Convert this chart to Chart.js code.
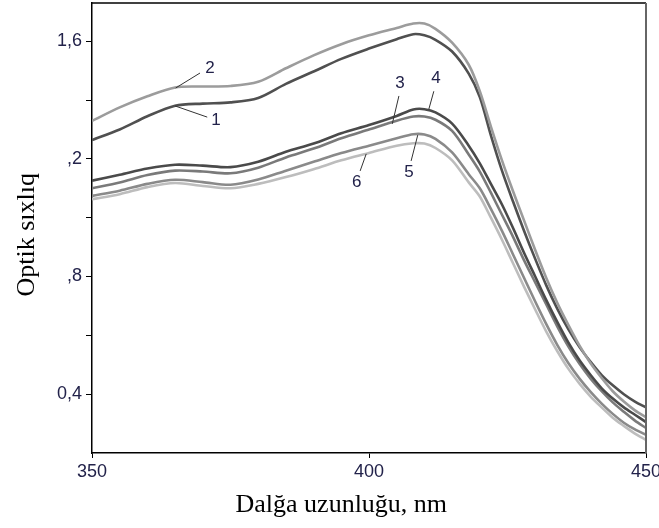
<!DOCTYPE html>
<html><head><meta charset="utf-8">
<script src="https://cdn.jsdelivr.net/npm/chart.js@4/dist/chart.umd.min.js"></script>
<style>html,body{margin:0;padding:0;background:#fff}</style>
</head><body>
<canvas id="c" width="659" height="528" style="display:block;width:659px;height:528px"></canvas>
<script>
// ---- data ----
const wavelengths = [350,355,360,365,370,375,380,385,390,395,400,405,408,410,412,415,418,420,422,424,426,428,430,432,434,436,438,440,442,444,446,448,450];
const curve1 = [1.264,1.300,1.345,1.381,1.388,1.392,1.407,1.455,1.497,1.540,1.575,1.607,1.624,1.620,1.605,1.565,1.490,1.410,1.280,1.160,1.055,0.955,0.860,0.770,0.690,0.620,0.560,0.510,0.465,0.430,0.400,0.375,0.355];
const curve2 = [1.329,1.375,1.413,1.443,1.446,1.448,1.462,1.508,1.552,1.590,1.620,1.645,1.660,1.660,1.642,1.595,1.520,1.430,1.310,1.195,1.090,0.990,0.890,0.795,0.710,0.635,0.565,0.505,0.455,0.410,0.375,0.345,0.322];
const curve3 = [1.100,1.120,1.145,1.160,1.157,1.151,1.170,1.205,1.235,1.270,1.300,1.330,1.344,1.344,1.333,1.295,1.215,1.157,1.085,1.010,0.935,0.855,0.780,0.705,0.630,0.562,0.503,0.453,0.410,0.372,0.340,0.310,0.285];
const curve4 = [1.126,1.146,1.167,1.180,1.177,1.172,1.190,1.224,1.252,1.287,1.315,1.346,1.368,1.369,1.358,1.320,1.245,1.185,1.115,1.045,0.965,0.880,0.800,0.720,0.645,0.575,0.515,0.465,0.420,0.385,0.355,0.330,0.305];
const curve5 = [1.074,1.092,1.115,1.129,1.121,1.112,1.130,1.160,1.190,1.220,1.245,1.270,1.284,1.283,1.268,1.222,1.148,1.100,1.030,0.955,0.875,0.795,0.715,0.638,0.567,0.505,0.453,0.408,0.368,0.333,0.303,0.280,0.262];
const curve6 = [1.063,1.080,1.104,1.118,1.108,1.100,1.115,1.138,1.165,1.195,1.220,1.245,1.253,1.252,1.237,1.195,1.120,1.072,1.000,0.925,0.845,0.765,0.688,0.613,0.546,0.486,0.436,0.392,0.355,0.320,0.292,0.266,0.245];
const curveNames = ['1','2','3','4','5','6'];
const xTickValues = [350,400,450];
const xTickLabels = ['350','400','450'];
const yTickValues = [0.4,0.6,0.8,1.0,1.2,1.4,1.6];
const yTickLabels = ['0,4','',',8','',',2','','1,6'];
const xTitle = 'Dalğa uzunluğu, nm';
const yTitle = 'Optik sıxlıq';

// ---- styling / annotation placement (data units) ----
const curveColors = ['#505050','#9c9c9c','#7a7a7a','#4a4a4a','#8a8a8a','#bdbdbd'];
const curveSeries = [curve1, curve2, curve3, curve4, curve5, curve6];
const callouts = {
  anchor: [[365.0,1.380],[365.1,1.441],[404.2,1.319],[410.8,1.369],[408.8,1.281],[399.5,1.217]],
  lineEnd:[[370.8,1.342],[369.5,1.492],[405.4,1.414],[411.7,1.430],[407.6,1.193],[398.4,1.159]],
  text:   [[372.4,1.332],[371.3,1.508],[405.6,1.458],[412.1,1.475],[407.2,1.156],[397.8,1.119]]
};
const labelColor = '#22224a';
const sansFont = '"Liberation Sans", Arial, sans-serif';
const serifFont = '"Liberation Serif", "Times New Roman", serif';

const datasets = curveSeries.map((arr, i) => ({
  label: curveNames[i],
  data: wavelengths.map((w, j) => ({x: w, y: arr[j]})),
  borderColor: curveColors[i],
  borderWidth: 2.6,
  pointRadius: 0,
  fill: false,
  tension: 0.3
})).reverse();

const framePlugin = {
  id: 'frame',
  afterDatasetsDraw(chart) {
    const {ctx, chartArea: a, scales} = chart;
    ctx.save();
    ctx.strokeStyle = '#000'; ctx.lineWidth = 1.5;
    ctx.beginPath(); ctx.moveTo(a.left, a.top); ctx.lineTo(a.right, a.top); ctx.stroke();
    ctx.strokeStyle = '#666'; ctx.lineWidth = 2;
    ctx.beginPath(); ctx.moveTo(a.right, a.top); ctx.lineTo(a.right, a.bottom); ctx.stroke();
    const xs = scales.x, ys = scales.y;
    ctx.font = '17px ' + sansFont;
    ctx.textAlign = 'center'; ctx.textBaseline = 'middle';
    curveNames.forEach((n, i) => {
      const [ax, ay] = callouts.anchor[i], [lx, ly] = callouts.lineEnd[i], [tx, ty] = callouts.text[i];
      ctx.strokeStyle = '#333'; ctx.lineWidth = 1;
      ctx.beginPath();
      ctx.moveTo(xs.getPixelForValue(ax), ys.getPixelForValue(ay));
      ctx.lineTo(xs.getPixelForValue(lx), ys.getPixelForValue(ly));
      ctx.stroke();
      ctx.fillStyle = labelColor;
      ctx.fillText(n, xs.getPixelForValue(tx), ys.getPixelForValue(ty));
    });
    // axis titles
    ctx.fillStyle = '#000';
    ctx.font = '26px ' + serifFont;
    ctx.fillText(xTitle, a.left + (a.right - a.left) * 0.45, 505);
    ctx.translate(27, a.top + (a.bottom - a.top) * 0.515);
    ctx.rotate(-Math.PI / 2);
    ctx.fillText(yTitle, 0, 0);
    ctx.restore();
  }
};

new Chart(document.getElementById('c'), {
  type: 'line',
  data: { datasets },
  options: {
    responsive: false,
    animation: false,
    events: [],
    layout: { padding: { top: 3, right: 13, left: 0, bottom: 0 } },
    plugins: { legend: { display: false }, tooltip: { enabled: false } },
    scales: {
      x: {
        type: 'linear', min: 350, max: 450,
        afterBuildTicks: s => { s.ticks = xTickValues.map(v => ({value: v})); },
        afterFit: s => { s.height = 75; s.paddingLeft = 0; s.paddingRight = 0; },
        grid: { drawOnChartArea: false, drawTicks: true, tickLength: 5, color: '#000' },
        border: { display: true, color: '#000', width: 1.5 },
        ticks: {
          padding: 3, color: labelColor, maxRotation: 0, autoSkip: false,
          font: { family: sansFont, size: 18 },
          callback: v => { const k = xTickValues.indexOf(v); return k >= 0 ? xTickLabels[k] : ''; }
        },
        title: { display: false }
      },
      y: {
        type: 'linear', min: 0.2, max: 1.73,
        afterBuildTicks: s => { s.ticks = yTickValues.map(v => ({value: v})); },
        afterFit: s => { s.width = 92; s.paddingTop = 0; s.paddingBottom = 0; },
        grid: { drawOnChartArea: false, drawTicks: true, tickLength: 6, color: '#000' },
        border: { display: true, color: '#000', width: 1.5 },
        ticks: {
          padding: 4, color: labelColor, autoSkip: false,
          font: { family: sansFont, size: 18 },
          callback: v => { const k = yTickValues.findIndex(t => Math.abs(t - v) < 1e-6); return k >= 0 ? yTickLabels[k] : ''; }
        },
        title: { display: false }
      }
    }
  },
  plugins: [framePlugin]
});
</script>
</body></html>
